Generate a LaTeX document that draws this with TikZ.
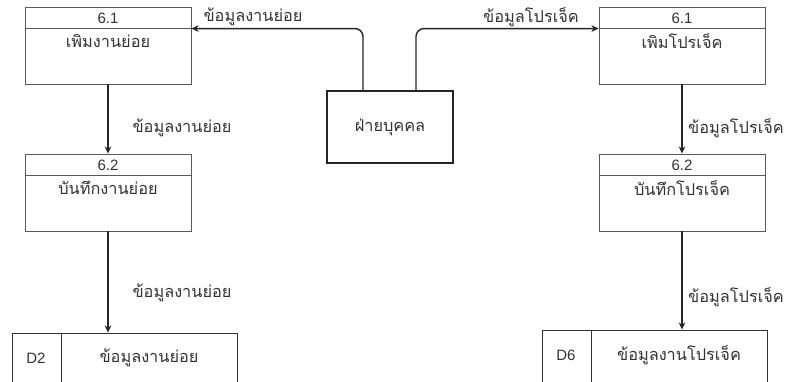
\documentclass[tikz,border=0pt]{standalone}
\usepackage{fontspec}
\setmainfont[Script=Thai]{Loma}
\newfontfamily\latinfont{Liberation Sans}
\usetikzlibrary{arrows.meta}
\definecolor{boxgray}{HTML}{595959}
\definecolor{txt}{HTML}{333333}
\tikzset{
  proc/.style={draw=boxgray, line width=0.9pt, minimum width=166pt, minimum height=77pt, inner sep=0pt},
  ext/.style={draw=black!85, line width=1.1pt, minimum width=126pt, minimum height=72pt, inner sep=0pt},
  store/.style={draw=black!80, line width=0.9pt, inner sep=0pt},
  flow/.style={draw=black!85, line width=1.4pt, -{Stealth[length=7pt,width=6.5pt,inset=2pt]}},
  lbl/.style={text=txt, font=\fontsize{16.3}{18}\selectfont, inner sep=0pt},
  ttl/.style={text=txt, font=\fontsize{16.3}{18}\selectfont, inner sep=0pt},
  num/.style={text=txt, font=\latinfont\fontsize{15}{17}\selectfont, inner sep=0pt}
}
\begin{document}
\begin{tikzpicture}[x=1pt,y=-1pt]
\useasboundingbox (0,0) rectangle (787,381);
\clip (0,0) rectangle (787,381);
\fill[white] (0,0) rectangle (787,381);

% process boxes
\node[proc] (p1) at (108,45.5) {};
\node[proc] (p2) at (108,192.5) {};
\node[proc] (q1) at (682,45.5) {};
\node[proc] (q2) at (682,192.5) {};
\foreach \b in {p1,p2,q1,q2}{
  \draw[boxgray, line width=0.9pt] ([yshift=-22pt]\b.north west) coordinate (\b dl) -- ([yshift=-22pt]\b.north east) coordinate (\b dr);
}
\node[num] (p1n) at (108,18) {6.1};
\node[ttl] (p1t) at (108,41) {เพิมงานย่อย};
\node[num] (p2n) at (108,165) {6.2};
\node[ttl] (p2t) at (108,188) {บันทึกงานย่อย};
\node[num] (q1n) at (682,18) {6.1};
\node[ttl] (q1t) at (682,41) {เพิมโปรเจ็ค};
\node[num] (q2n) at (682,165) {6.2};
\node[ttl] (q2t) at (682,188) {บันทึกโปรเจ็ค};

% external entity
\node[ext] (hr) at (390,127) {};
\node[ttl] (hrt) at (390,127) {ฝ่ายบุคคล};

% data stores
\node[store, minimum width=225pt, minimum height=62pt] (d2) at (124.5,364) {};
\draw[store] (61,333) coordinate (d2a) -- (61,395) coordinate (d2b);
\node[num] (d2n) at (36,358) {D2};
\node[ttl] (d2t) at (149,358) {ข้อมูลงานย่อย};
\node[store, minimum width=225pt, minimum height=62pt] (d6) at (654.5,361) {};
\draw[store] (591,330) coordinate (d6a) -- (591,395) coordinate (d6b);
\node[num] (d6n) at (566,355) {D6};
\node[ttl] (d6t) at (679,355) {ข้อมูลงานโปรเจ็ค};

% flows
\draw[flow, rounded corners=8pt] ([xshift=-27pt]hr.north) |- (p1dr);
\draw[flow, rounded corners=8pt] ([xshift=26pt]hr.north) |- (q1dl);
\draw[flow] (p1.south) -- (p2.north);
\draw[flow] (p2.south) -- (p2.south|-d2.north);
\draw[flow] (q1.south) -- (q2.north);
\draw[flow] (q2.south) -- (q2.south|-d6.north);

% labels
\node[lbl] (l1) at (253,17) {ข้อมูลงานย่อย};
\node[lbl] (l2) at (531,17) {ข้อมูลโปรเจ็ค};
\node[lbl] (l3) at (182,128) {ข้อมูลงานย่อย};
\node[lbl] (l4) at (182,293) {ข้อมูลงานย่อย};
\node[lbl] (l5) at (736,128) {ข้อมูลโปรเจ็ค};
\node[lbl] (l6) at (736,297) {ข้อมูลโปรเจ็ค};
\end{tikzpicture}
\end{document}
